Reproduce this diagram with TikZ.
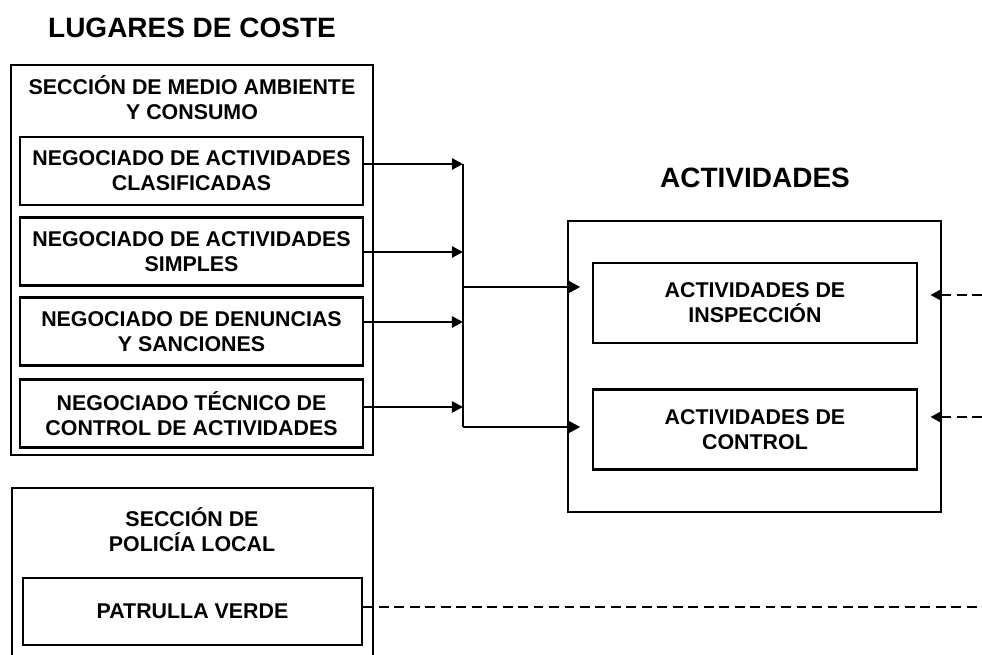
\documentclass[tikz,border=0pt]{standalone}
\usepackage{fontspec}
\setmainfont{Liberation Sans}
\usetikzlibrary{arrows.meta}
\tikzset{
	caja/.style={draw, line width=2pt, align=center, font=\fontsize{15.2}{17.8}\selectfont\bfseries},
	titulo/.style={font=\fontsize{19.9}{24}\selectfont\bfseries},
	flecha/.style={line width=1.8pt, -{Triangle[length=8pt,width=8pt]}},
	linea/.style={line width=1.8pt},
	discont/.style={line width=1.8pt, dash pattern=on 7pt off 4pt}
}

\begin{document}
\begin{tikzpicture}[x=0.025cm, y=-0.025cm]
				\path[use as bounding box, clip] (0,0) rectangle (982,655);
				% 标题
				\node[titulo] (tlug) at (192,28) {LUGARES DE COSTE};
				\node[titulo] (tact) at (755,178) {ACTIVIDADES};
				% 左上大框及其子框
				\node[caja, minimum width=9.05cm, minimum height=9.75cm] (secma) at (192,260) {};
				\node[font=\fontsize{15.2}{17.8}\selectfont\bfseries, align=center] (hdrma) at (192,98) {SECCIÓN DE MEDIO AMBIENTE\\Y CONSUMO};
				\node[caja, minimum width=8.575cm, minimum height=1.7cm] (nclas) at (191.5,171) {NEGOCIADO DE ACTIVIDADES\\CLASIFICADAS};
				\node[caja, minimum width=8.575cm, minimum height=1.7cm] (nsimp) at (191.5,251.5) {NEGOCIADO DE ACTIVIDADES\\SIMPLES};
				\node[caja, minimum width=8.575cm, minimum height=1.7cm] (nden) at (191.5,331.5) {NEGOCIADO DE DENUNCIAS\\Y SANCIONES};
				\node[caja, minimum width=8.575cm, minimum height=1.7cm] (ntec) at (191.5,413.5) {NEGOCIADO TÉCNICO DE\\CONTROL DE ACTIVIDADES};
				% 左下大框
				\node[caja, minimum width=9.025cm, minimum height=5.3cm] (secpl) at (192.5,594) {};
				\node[font=\fontsize{15.2}{17.8}\selectfont\bfseries, align=center] (hdrpl) at (192,530) {SECCIÓN DE\\POLICÍA LOCAL};
				\node[caja, minimum width=8.475cm, minimum height=1.675cm] (pverde) at (192.5,611.5) {PATRULLA VERDE};
				% 右侧大框及其子框
				\node[caja, minimum width=9.325cm, minimum height=7.275cm] (actv) at (754.5,366.5) {};
				\node[caja, minimum width=8.1cm, minimum height=2cm] (insp) at (755,303) {ACTIVIDADES DE\\INSPECCIÓN};
				\node[caja, minimum width=8.1cm, minimum height=2cm] (ctrl) at (755,429.5) {ACTIVIDADES DE\\CONTROL};
				% 汇总线
				\coordinate (b1) at (463,164);
				\coordinate (b2) at (463,252);
				\coordinate (b3) at (463,322);
				\coordinate (b4) at (463,407);
				\coordinate (s1) at (463,287);
				\coordinate (s2) at (463,427);
				\draw[flecha] (nclas.east |- b1) -- (b1);
				\draw[flecha] (nsimp.east |- b2) -- (b2);
				\draw[flecha] (nden.east |- b3) -- (b3);
				\draw[flecha] (ntec.east |- b4) -- (b4);
				\draw[linea] (b1) -- (s2);
				\draw[flecha, shorten >=8pt] (s1) -- (insp.west |- s1);
				\draw[flecha, shorten >=8pt] (s2) -- (ctrl.west |- s2);
				% 虚线
				\coordinate (d1) at (982,295);
				\coordinate (d2) at (982,417);
				\coordinate (d3) at (982,607);
				\draw[discont, -{Triangle[length=8pt,width=8pt]}, shorten >=8.5pt] (d1) -- (insp.east |- d1);
				\draw[discont, -{Triangle[length=8pt,width=8pt]}, shorten >=8.5pt] (d2) -- (ctrl.east |- d2);
				\draw[discont] (pverde.east |- d3) -- (d3);
			\end{tikzpicture}
\end{document}
